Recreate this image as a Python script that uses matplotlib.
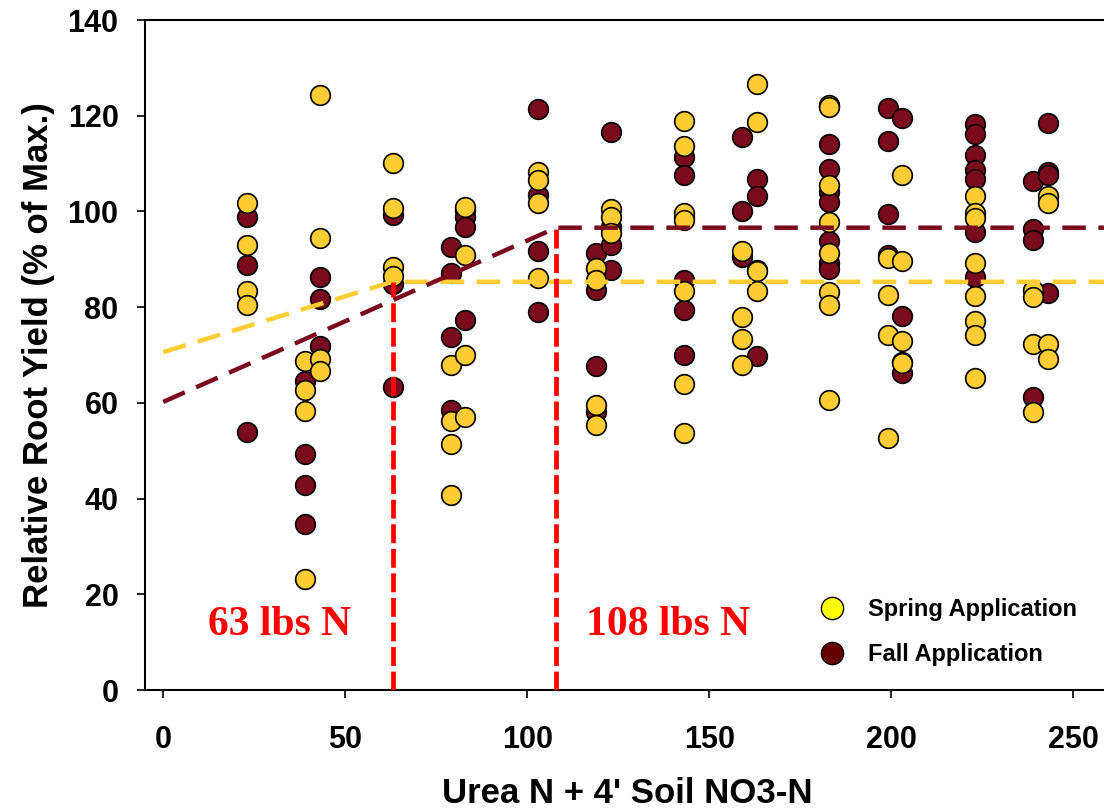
import numpy as np
import matplotlib.pyplot as plt
from matplotlib.lines import Line2D

plt.rcParams['font.family'] = ['Liberation Sans', 'DejaVu Sans']
plt.rcParams['font.weight'] = 'bold'

# spring application (yellow)
spring_x = [23, 23, 23, 23,
            39, 39, 39, 39,
            43, 43, 43, 43,
            63, 63, 63, 63,
            79, 79, 79, 79,
            83, 83, 83, 83,
            103, 103, 103, 103,
            119, 119, 119, 119,
            123, 123, 123,
            143, 143, 143, 143, 143, 143, 143,
            159, 159, 159, 159,
            163, 163, 163, 163,
            183, 183, 183, 183, 183, 183, 183, 183,
            199, 199, 199, 199,
            203, 203, 203, 203,
            223, 223, 223, 223, 223, 223, 223, 223,
            239, 239, 239, 239,
            243, 243, 243, 243]
spring_y = [101.8, 92.9, 83.3, 80.4,
            68.8, 62.7, 58.3, 23.1,
            124.3, 94.5, 69.2, 66.6,
            110.1, 100.8, 88.4, 86.5,
            68.0, 56.3, 51.5, 40.7,
            100.9, 91.0, 70.0, 57.0,
            108.3, 106.6, 101.8, 86.1,
            88.1, 85.7, 59.5, 55.4,
            100.6, 98.8, 95.4,
            119.0, 113.7, 99.7, 98.3, 83.4, 63.9, 53.8,
            91.7, 78.0, 73.4, 68.0,
            126.6, 118.6, 87.5, 83.4,
            122.2, 121.9, 105.5, 97.8, 91.4, 83.2, 80.4, 60.5,
            90.2, 82.5, 74.2, 52.6,
            107.6, 89.6, 73.0, 68.3,
            103.2, 99.6, 98.7, 89.2, 82.3, 77.2, 74.2, 65.1,
            83.6, 82.2, 72.2, 58.0,
            103.2, 101.8, 72.3, 69.1]

# fall application (maroon)
fall_x = [23, 23, 23,
          39, 39, 39, 39,
          43, 43, 43,
          63, 63, 63,
          79, 79, 79, 79,
          83, 83, 83, 83,
          103, 103, 103, 103,
          119, 119, 119, 119,
          123, 123, 123, 123,
          143, 143, 143, 143, 143, 143,
          159, 159, 159,
          163, 163, 163, 163,
          183, 183, 183, 183, 183, 183, 183, 183,
          199, 199, 199, 199,
          203, 203, 203, 203,
          223, 223, 223, 223, 223, 223, 223,
          239, 239, 239, 239,
          243, 243, 243, 243]
fall_y = [98.8, 88.9, 54.0,
          64.6, 49.4, 42.9, 34.6,
          86.4, 81.6, 71.8,
          99.3, 84.8, 63.3,
          92.6, 87.2, 73.8, 58.5,
          100.3, 98.9, 96.8, 77.3,
          121.5, 103.4, 91.8, 79.0,
          91.4, 83.6, 67.7, 58.1,
          116.7, 96.8, 93.0, 87.8,
          111.4, 107.6, 98.9, 85.7, 79.3, 70.1,
          115.5, 100.1, 90.5,
          106.8, 103.3, 87.8, 69.8,
          122.0, 114.1, 108.8, 104.1, 102.0, 93.8, 89.3, 88.0,
          121.7, 114.8, 99.5, 91.0,
          119.6, 78.1, 68.6, 66.3,
          118.3, 116.1, 111.8, 108.6, 106.7, 95.6, 86.3,
          106.4, 96.3, 94.0, 61.2,
          118.5, 108.3, 107.6, 82.9]

# linear-plateau fits: intercept, join point, plateau
spring_fit = [70.6, 63, 85.3]
fall_fit = [60.2, 108, 96.6]
x_end = 260

spring_col = '#FFCC33'
fall_col = '#7A0A1E'

fig = plt.figure(figsize=(11.04, 8.10), dpi=100)
ax = fig.add_axes([145 / 1104, 120 / 810, 964.6 / 1104, 670 / 810])

ax.scatter(fall_x, fall_y, s=200, c=fall_col, edgecolors='black', linewidths=1.2, zorder=2)
ax.scatter(spring_x, spring_y, s=200, c=spring_col, edgecolors='black', linewidths=1.2, zorder=2)

for fit, col in [(spring_fit, spring_col), (fall_fit, fall_col)]:
    b0, xj, plat = fit
    ax.plot([0, xj, x_end], [b0, plat, plat], color=col, lw=3.2, ls=(0, (5.3, 2.8)),
            dash_capstyle='butt', zorder=3)
    ax.plot([xj, xj], [0, plat], color='#FF0000', lw=3.4, ls=(0, (4, 1.2)), zorder=3)

ax.text(32, 11.5, '63 lbs N', color='#FF0000', fontsize=30, fontweight='bold',
        family='Liberation Serif', ha='center', va='baseline')
ax.text(138.7, 11.5, '108 lbs N', color='#FF0000', fontsize=30, fontweight='bold',
        family='Liberation Serif', ha='center', va='baseline')

ax.set_xlim(-5, x_end)
ax.set_ylim(0, 140)
ax.set_xticks([0, 50, 100, 150, 200, 250])
ax.set_yticks(range(0, 141, 20))
ax.tick_params(direction='out', length=6, width=1.2, labelsize=22)
ax.tick_params(axis='x', pad=19)
ax.tick_params(axis='y', pad=13)
for sp in ax.spines.values():
    sp.set_linewidth(1.5)

ax.set_xlabel("Urea N + 4' Soil NO3-N", fontsize=25, fontweight='bold', labelpad=16)
ax.set_ylabel('Relative Root Yield (% of Max.)', fontsize=25, fontweight='bold', labelpad=9)

handles = [Line2D([], [], ls='none', marker='o', markersize=16, markerfacecolor='#FFFF00',
                  markeredgecolor='black', markeredgewidth=1),
           Line2D([], [], ls='none', marker='o', markersize=16, markerfacecolor='#660000',
                  markeredgecolor='black', markeredgewidth=1)]
ax.legend(handles, ['Spring Application', 'Fall Application'], loc='upper left',
          bbox_to_anchor=(818 / 1104, 1 - 598 / 810), bbox_transform=fig.transFigure,
          frameon=False, fontsize=17, handlelength=1.2, handletextpad=0.9,
          labelspacing=0.95, borderpad=0, borderaxespad=0)

fig.savefig('out.png', dpi=100)
